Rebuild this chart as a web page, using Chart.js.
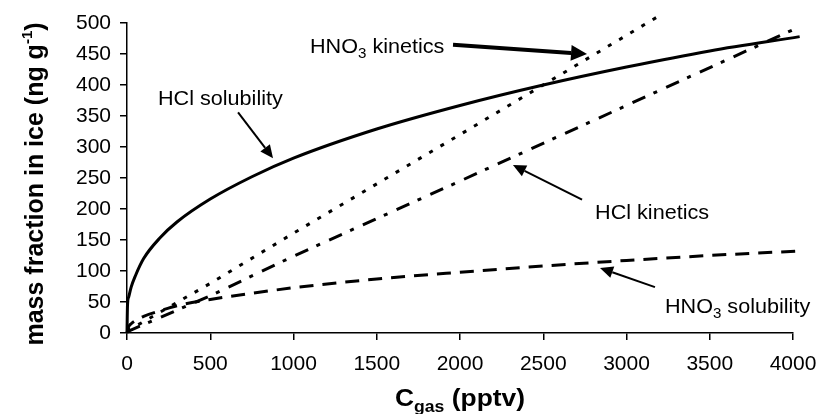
<!DOCTYPE html>
<html>
<head>
<meta charset="utf-8">
<script src="https://cdn.jsdelivr.net/npm/chart.js@4.4.1/dist/chart.umd.min.js"></script>
<style>
  html, body { margin: 0; padding: 0; background: #fff; }
  #wrap { width: 817px; height: 414px; position: relative; }
</style>
</head>
<body>
<div id="wrap"><canvas id="iceChart"></canvas></div>
<script>
// values (x = C_gas in pptv, y = ng/g)
const hclSolX = [0, 3, 10, 25, 50, 100, 200, 300, 500, 750, 1000, 1500, 2000, 2500, 3000, 3500, 4040];
const hclSolY = [0, 45, 58, 74, 92, 120, 154, 179, 216, 252, 282, 329, 367, 400, 429, 455, 478];

const hno3SolX = [0, 10, 25, 50, 100, 200, 300, 500, 750, 1000, 1500, 2000, 2500, 3000, 3500, 4020];
const hno3SolY = [0, 10, 15, 20, 27, 36, 44, 54, 64, 73, 87, 98, 108, 117, 125, 132];

const hno3KinX = [0, 500, 1000, 2000, 3180];
const hno3KinY = [3, 80, 161, 320, 509];

const hclKinX = [0, 500, 1000, 2000, 3000, 4040];
const hclKinY = [2, 60, 124, 245, 367, 494];

const xTicks = [0, 500, 1000, 1500, 2000, 2500, 3000, 3500, 4000];
const yTicks = [0, 50, 100, 150, 200, 250, 300, 350, 400, 450, 500];

function pts(xs, ys) {
    return xs.map((x, i) => ({x: x, y: ys[i]}));
}

const FONT = '"Liberation Sans", Arial, Helvetica, sans-serif';
const SX = 1.08; // text in the picture is a bit wide

// draw text made of parts (for sub/superscripts), left aligned at x
function drawRich(ctx, x, y, parts, sx) {
    ctx.save();
    ctx.translate(x, y);
    ctx.scale(sx, 1);
    let cx = 0;
    parts.forEach(p => {
        ctx.font = p.font;
        ctx.fillText(p.t, cx, p.dy || 0);
        cx += ctx.measureText(p.t).width;
    });
    ctx.restore();
}
function richWidth(ctx, parts) {
    let w = 0;
    parts.forEach(p => { ctx.font = p.font; w += ctx.measureText(p.t).width; });
    return w;
}

function arrow(ctx, x1, y1, x2, y2, lw, hl, hw) {
    const a = Math.atan2(y2 - y1, x2 - x1);
    const bx = x2 - hl * Math.cos(a), by = y2 - hl * Math.sin(a);
    ctx.save();
    ctx.strokeStyle = '#000';
    ctx.fillStyle = '#000';
    ctx.lineWidth = lw;
    ctx.beginPath();
    ctx.moveTo(x1, y1);
    ctx.lineTo(bx, by);
    ctx.stroke();
    ctx.beginPath();
    ctx.moveTo(x2, y2);
    ctx.lineTo(bx + hw * Math.sin(a), by - hw * Math.cos(a));
    ctx.lineTo(bx - hw * Math.sin(a), by + hw * Math.cos(a));
    ctx.closePath();
    ctx.fill();
    ctx.restore();
}

const tf = '20px ' + FONT;
const sf = '14px ' + FONT;

// annotation labels: text start + arrow tail/tip, in data units
const labels = [
    {parts: [{t: 'HCl solubility', font: tf}], x: 186, y: 368,
     from: [667, 356], to: [877, 282], lw: 2, hl: 13, hw: 6},
    {parts: [{t: 'HNO', font: tf}, {t: '3', font: sf, dy: 5}, {t: ' kinetics', font: tf}], x: 1099, y: 452,
     from: [1958, 465], to: [2763, 450], lw: 4, hl: 16, hw: 8},
    {parts: [{t: 'HCl kinetics', font: tf}], x: 2811, y: 184,
     from: [2733, 215], to: [2318, 271], lw: 2, hl: 13, hw: 6},
    {parts: [{t: 'HNO', font: tf}, {t: '3', font: sf, dy: 5}, {t: ' solubility', font: tf}], x: 3231, y: 32,
     from: [3171, 74], to: [2841, 105], lw: 2, hl: 13, hw: 6}
];

const annotate = {
    id: 'annotate',
    afterDraw(chart) {
        const ctx = chart.ctx;
        const xs = chart.scales.x, ys = chart.scales.y;
        const area = chart.chartArea;
        ctx.save();
        ctx.fillStyle = '#000';
        ctx.textBaseline = 'alphabetic';
        labels.forEach(l => {
            drawRich(ctx, xs.getPixelForValue(l.x), ys.getPixelForValue(l.y), l.parts, SX);
            arrow(ctx, xs.getPixelForValue(l.from[0]), ys.getPixelForValue(l.from[1]),
                xs.getPixelForValue(l.to[0]), ys.getPixelForValue(l.to[1]), l.lw, l.hl, l.hw);
        });

        // x axis title
        const xt = [
            {t: 'C', font: 'bold 24px ' + FONT},
            {t: 'gas', font: 'bold 16px ' + FONT, dy: 6},
            {t: ' (pptv)', font: 'bold 24px ' + FONT}
        ];
        const xw = richWidth(ctx, xt) * 1.1;
        drawRich(ctx, (area.left + area.right) / 2 - xw / 2, 406, xt, 1.1);

        // y axis title
        const yt = [
            {t: 'mass fraction in ice (ng g', font: 'bold 25px ' + FONT},
            {t: '-1', font: 'bold 15px ' + FONT, dy: -11},
            {t: ')', font: 'bold 25px ' + FONT}
        ];
        const yw = richWidth(ctx, yt);
        ctx.save();
        ctx.translate(43, 184);
        ctx.rotate(-Math.PI / 2);
        drawRich(ctx, -yw / 2, 0, yt, 1);
        ctx.restore();
        ctx.restore();
    }
};

new Chart('iceChart', {
    type: 'line',
    data: {
        datasets: [
            {label: 'HCl solubility', data: pts(hclSolX, hclSolY), borderColor: '#000',
             borderWidth: 3, cubicInterpolationMode: 'monotone'},
            {label: 'HNO3 solubility', data: pts(hno3SolX, hno3SolY), borderColor: '#000',
             borderWidth: 3, borderDash: [14, 9], cubicInterpolationMode: 'monotone'},
            {label: 'HNO3 kinetics', data: pts(hno3KinX, hno3KinY), borderColor: '#000',
             borderWidth: 3, borderDash: [4, 9], tension: 0},
            {label: 'HCl kinetics', data: pts(hclKinX, hclKinY), borderColor: '#000',
             borderWidth: 3, borderDash: [14, 9, 4, 10], tension: 0}
        ]
    },
    options: {
        responsive: true,
        maintainAspectRatio: false,
        animation: false,
        events: [],
        datasets: {line: {pointRadius: 0, clip: false, fill: false}},
        layout: {padding: {left: 0, top: 23, right: 24, bottom: 0}},
        plugins: {legend: {display: false}, tooltip: {enabled: false}},
        scales: {
            x: {
                type: 'linear', min: 0, max: 4000,
                afterBuildTicks: s => { s.ticks = xTicks.map(v => ({value: v})); },
                afterFit: s => { s.height = 81; s.paddingLeft = 0; s.paddingRight = 0; },
                ticks: {font: {family: FONT, size: 21}, color: '#000', padding: 12, maxRotation: 0,
                        callback: v => String(v)},
                grid: {drawOnChartArea: false, color: '#000', lineWidth: 1.5, tickLength: 7},
                border: {color: '#000', width: 1.5}
            },
            y: {
                min: 0, max: 500,
                afterBuildTicks: s => { s.ticks = yTicks.map(v => ({value: v})); },
                afterFit: s => { s.width = 127; s.paddingTop = 0; s.paddingBottom = 0; },
                ticks: {font: {family: FONT, size: 21}, color: '#000', padding: 9,
                        callback: v => String(v)},
                grid: {drawOnChartArea: false, color: '#000', lineWidth: 1.5, tickLength: 7},
                border: {color: '#000', width: 1.5}
            }
        }
    },
    plugins: [annotate]
});
</script>
</body>
</html>
